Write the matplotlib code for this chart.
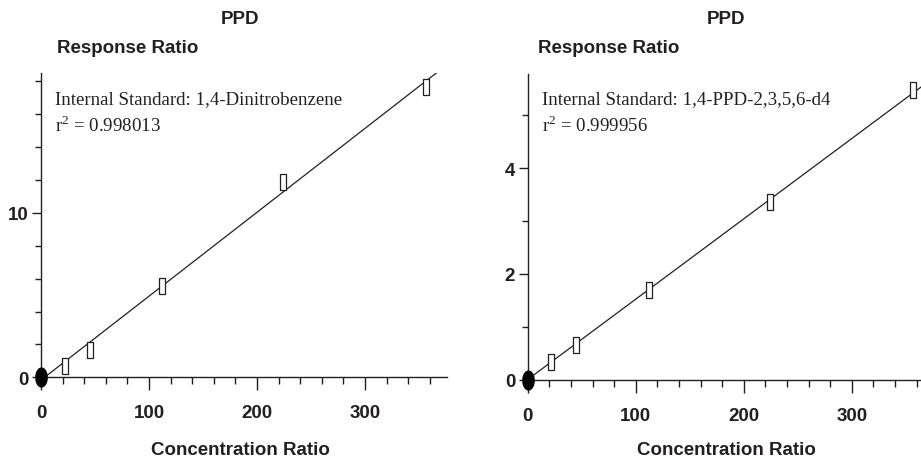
import numpy as np
import matplotlib
matplotlib.use("Agg")
import matplotlib.pyplot as plt
from matplotlib.path import Path
from matplotlib.ticker import MultipleLocator

plt.rcParams['font.family'] = 'Liberation Sans'
plt.rcParams['mathtext.fontset'] = 'custom'
plt.rcParams['mathtext.rm'] = 'Liberation Serif'

# data
conc_left = [22, 45, 112, 224, 357]
resp_left = [0.7, 1.68, 5.55, 11.85, 17.64]
conc_right = [22, 45, 112, 224, 357]
resp_right = [0.33, 0.66, 1.69, 3.35, 5.47]
fit_left = (0.0510, -0.17)   # slope, intercept
fit_right = (0.0152, 0.0)
std_left = "Internal Standard: 1,4-Dinitrobenzene"
std_right = "Internal Standard: 1,4-PPD-2,3,5,6-d4"
r2_left = "0.998013"
r2_right = "0.999956"

W, H = 921, 460
fig = plt.figure(figsize=(W / 100, H / 100), dpi=100)
ink = '#231f20'

rect = Path([(-0.16, -0.5), (0.16, -0.5), (0.16, 0.5), (-0.16, 0.5), (-0.16, -0.5)],
            [Path.MOVETO, Path.LINETO, Path.LINETO, Path.LINETO, Path.CLOSEPOLY])
t = np.linspace(0, 2 * np.pi, 60)
oval = Path(np.column_stack([0.3 * np.cos(t), 0.5 * np.sin(t)]))


def px(x0, y0, x1, y1):
    # pixel box -> figure fraction [left, bottom, width, height]
    return [x0 / W, 1 - y1 / H, (x1 - x0) / W, (y1 - y0) / H]


def panel(box, conc, resp, fit, xmax, ymax, ymaj, ymin, std, r2, cx, rx, tx):
    ax = fig.add_axes(box)
    ax.set_xlim(0, xmax)
    ax.set_ylim(0, ymax)
    for s in ['top', 'right']:
        ax.spines[s].set_visible(False)
    for s in ['left', 'bottom']:
        ax.spines[s].set_linewidth(1.0)
        ax.spines[s].set_color(ink)
    ax.xaxis.set_major_locator(MultipleLocator(100))
    ax.xaxis.set_minor_locator(MultipleLocator(20))
    ax.yaxis.set_major_locator(MultipleLocator(ymaj))
    ax.yaxis.set_minor_locator(MultipleLocator(ymin))
    ax.tick_params(axis='x', which='major', length=9.5, width=1, pad=10, color=ink,
                   labelsize=13.5, labelcolor=ink)
    ax.tick_params(axis='x', which='minor', length=4.8, width=1, color=ink)
    ax.tick_params(axis='y', which='major', length=6.5, width=1, pad=2.5, color=ink,
                   labelsize=13.5, labelcolor=ink)
    ax.tick_params(axis='y', which='minor', length=4, width=1, color=ink)
    for lab in ax.get_xticklabels() + ax.get_yticklabels():
        lab.set_fontweight('bold')

    xs = np.array([0, xmax * 1.2])
    ax.plot(xs, fit[0] * xs + fit[1], color=ink, lw=0.9)
    ax.plot(conc, resp, ls='none', marker=rect, ms=11.5, mfc='white', mec=ink, mew=0.9)
    ax.plot([0], [0], ls='none', marker=oval, ms=13.5, mfc='black', mec='black',
            clip_on=False, zorder=5)

    fig.text(tx / W, 1 - 100 / H, std, family='Liberation Serif', fontsize=13.6,
             color=ink, va='center', ha='left')
    fig.text(tx / W, 1 - 126 / H, r'r$^{\mathrm{2}}$ = ' + r2, family='Liberation Serif',
             fontsize=13.6, color=ink, va='center', ha='left')
    fig.text(cx / W, 1 - 20 / H, 'PPD', fontsize=13.5, fontweight='bold', color=ink,
             ha='center', va='center')
    fig.text(rx / W, 1 - 49 / H, 'Response Ratio', fontsize=13.5, fontweight='bold',
             color=ink, ha='left', va='center')
    fig.text(cx / W, 1 - 451 / H, 'Concentration Ratio', fontsize=13.5, fontweight='bold',
             color=ink, ha='center', va='center')
    return ax


panel(px(41, 74, 447, 378.3), conc_left, resp_left, fit_left, 376, 18.5, 10, 2,
      std_left, r2_left, 240, 57, 55)
panel(px(527.7, 75, 921, 380.5), conc_right, resp_right, fit_right, 364, 5.78, 2, 1,
      std_right, r2_right, 726, 538, 542)

fig.savefig('out.png', dpi=100)
